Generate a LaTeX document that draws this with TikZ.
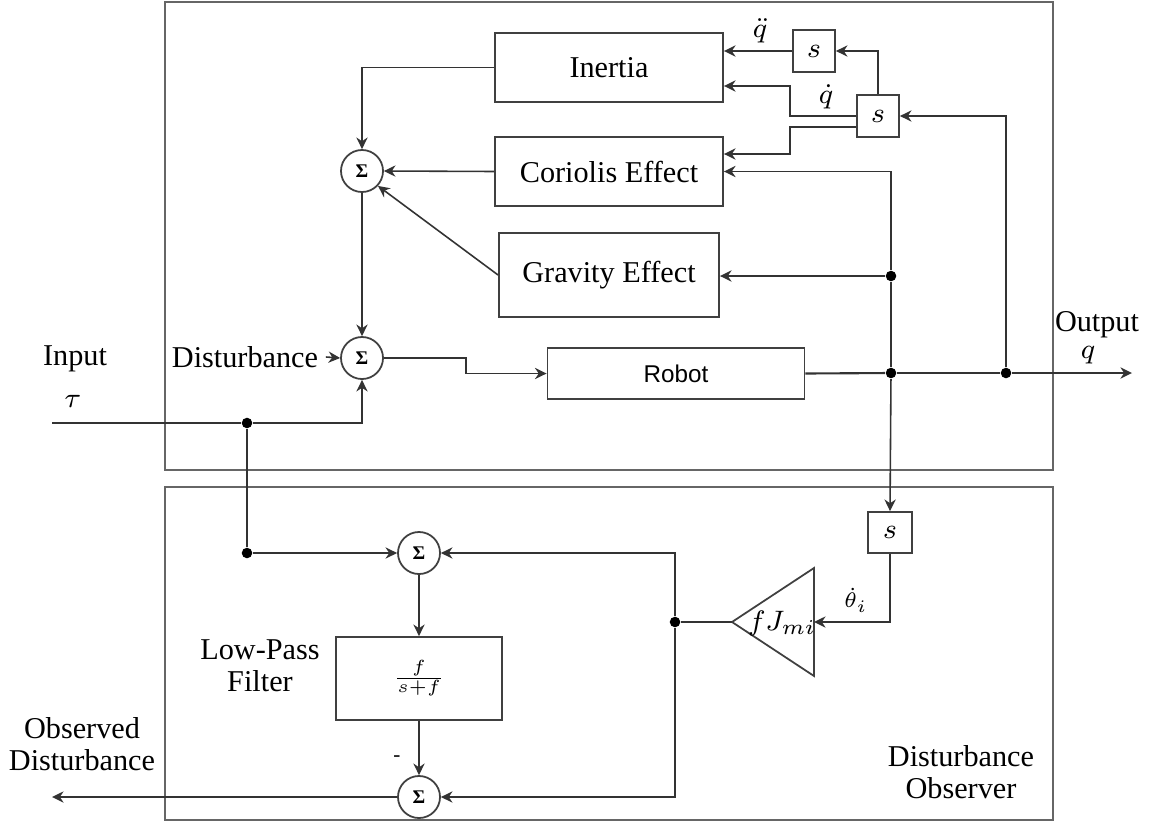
\documentclass[tikz,border=0pt]{standalone}
\usepackage{fontspec}
\setmainfont{Liberation Serif}
\newfontfamily\sansf{Liberation Sans}
\usetikzlibrary{arrows.meta}
\begin{document}
\begin{tikzpicture}[x=0.01cm,y=-0.01cm,
  line width=0.45pt, draw=black!80,
  blk/.style={draw=black!75, line width=0.5pt, inner sep=0pt, font=\fontsize{8.6}{10}\selectfont},
  sbox/.style={blk, minimum width=0.42cm, minimum height=0.42cm, font=\fontsize{8}{9}\selectfont},
  sumn/.style={draw=black!75, line width=0.5pt, circle, minimum size=0.42cm, inner sep=0pt, font=\fontsize{5.5}{6}\selectfont\bfseries},
  arr/.style={-{Stealth[length=3.3pt,width=3.2pt]}},
  jdot/.style={circle, fill=black, inner sep=0pt, minimum size=3pt},
  lbl/.style={font=\fontsize{8.6}{9.2}\selectfont, align=center, inner sep=0pt},
  mlbl/.style={font=\fontsize{8}{9}\selectfont, inner sep=0pt},
  frame/.style={draw=black!60, line width=0.6pt}
  ]
\useasboundingbox (0,0) rectangle (1164,824);
\fill[white] (0,0) rectangle (1164,824);
% outer frames
\draw[frame] (165,2) rectangle (1053,470);
\draw[frame] (165,487) rectangle (1053,820);

% blocks
\node[blk, minimum width=2.28cm, minimum height=0.69cm] (inertia) at (609,67.5) {Inertia};
\node[blk, minimum width=2.28cm, minimum height=0.69cm] (cor) at (609,171.5) {Coriolis Effect};
\node[blk, minimum width=2.20cm, minimum height=0.84cm] (grav) at (609,275) {Gravity Effect};
\node[blk, minimum width=2.57cm, minimum height=0.51cm, font=\sansf\fontsize{6.9}{8}\selectfont] (robot) at (676,373.5) {Robot};
\node[sbox] (s1) at (814,51) {$s$};
\node[sbox] (s2) at (878,116) {$s$};
\node[sbox, minimum width=0.44cm, minimum height=0.41cm] (s3) at (890,532.5) {$s$};
\node[sumn] (sum1) at (362,171) {Σ};
\node[sumn] (sum2) at (362,358) {Σ};
\node[sumn] (sum3) at (419,553) {Σ};
\node[sumn] (sum4) at (419,797) {Σ};
\node[blk, minimum width=1.66cm, minimum height=0.83cm, font=\fontsize{7}{8}\selectfont] (lpf) at (419,678.5) {$\frac{f}{s+f}$};

% triangle gain
\coordinate (tip) at (732,622);
\coordinate (triR) at (814,622);
\draw[draw=black!75, line width=0.5pt] (tip) -- (814,568) -- (814,676) -- cycle;
\node[font=\fontsize{8.3}{10}\selectfont, inner sep=0pt] (gain) at (782,623) {$fJ_{mi}$};

% junctions
\node[jdot] (d1) at (891,276) {};
\node[jdot] (d2) at (891,373) {};
\node[jdot] (d3) at (1006,373) {};
\node[jdot] (d4) at (247,423) {};
\node[jdot] (d5) at (247,553) {};
\node[jdot] (d6) at (675,622) {};
\coordinate (inp) at (52,423);
\coordinate (outend) at (1132,373);
\coordinate (obsend) at (52,797);

% labels
\node[lbl] (dist) at (245,357) {Disturbance};
\node[lbl] (inlbl) at (75,359) {Input};
\node[mlbl] (taulbl) at (73,401) {$\tau$};
\node[lbl] (outlbl) at (1097,325) {Output};
\node[mlbl] (qlbl) at (1088,355) {$q$};
\node[mlbl] (qdd) at (760,31) {$\ddot q$};
\node[mlbl] (qd) at (826,97) {$\dot q$};
\node[font=\fontsize{6}{7}\selectfont, inner sep=0pt] (thlbl) at (856,600) {$\dot{\theta}_{i}$};
\node[lbl] (obslbl) at (82,744) {Observed\\Disturbance};
\node[lbl] (lpflbl) at (260,666) {Low-Pass\\Filter};
\node[lbl] (dolbl) at (961,772) {Disturbance\\Observer};
\node[font=\fontsize{6}{7}\selectfont, inner sep=0pt] (minus) at (397,759) {-};

% connectors: upper part
\draw[arr] (inertia.west) -| (sum1.north);
\draw[arr] (cor.west) -- (sum1.east);
\draw[arr] (grav.west) -- (sum1.-43);
\draw[arr] (sum1.south) -- (sum2.north);
\draw[arr] (s1.west) -- (inertia.east |- s1.west);
\draw[arr] (s2.north) |- (s1.east);
\draw[arr] (s2.west) -| (790,86) -- (inertia.east |- 0,86);
\draw[arr] ([yshift=-0.11cm]s2.west) -| (790,154) -- (cor.east |- 0,154);
\draw[arr] (d1) |- (cor.east);
\draw[arr] (d1) -- (grav.east |- d1);
\draw (d1) -- (d2);
\draw[arr] (d2) -- (s3.north);
\draw[line width=0.6pt] (robot.east) -- (d2);
\draw (d2) -- (d3);
\draw[arr] (d3) -- (outend);
\draw[arr] (d3) |- (s2.east);
\draw[arr] (sum2.east) -- (466,358) |- (robot.west);
\draw[arr] ([xshift=0.07cm]dist.east) -- (sum2.west);
\draw (inp) -- (d4);
\draw[arr] (d4) -| (sum2.south);

% connectors: observer
\draw (d4) -- (d5);
\draw[arr] (d5) -- (sum3.west);
\draw[arr] (sum3.south) -- (lpf.north);
\draw[arr] (lpf.south) -- (sum4.north);
\draw[arr] (s3.south) |- (triR);
\draw (tip) -- (d6);
\draw[arr] (d6) |- (sum3.east);
\draw[arr] (d6) |- (sum4.east);
\draw[arr] (sum4.west) -- (obsend);
\end{tikzpicture}
\end{document}
